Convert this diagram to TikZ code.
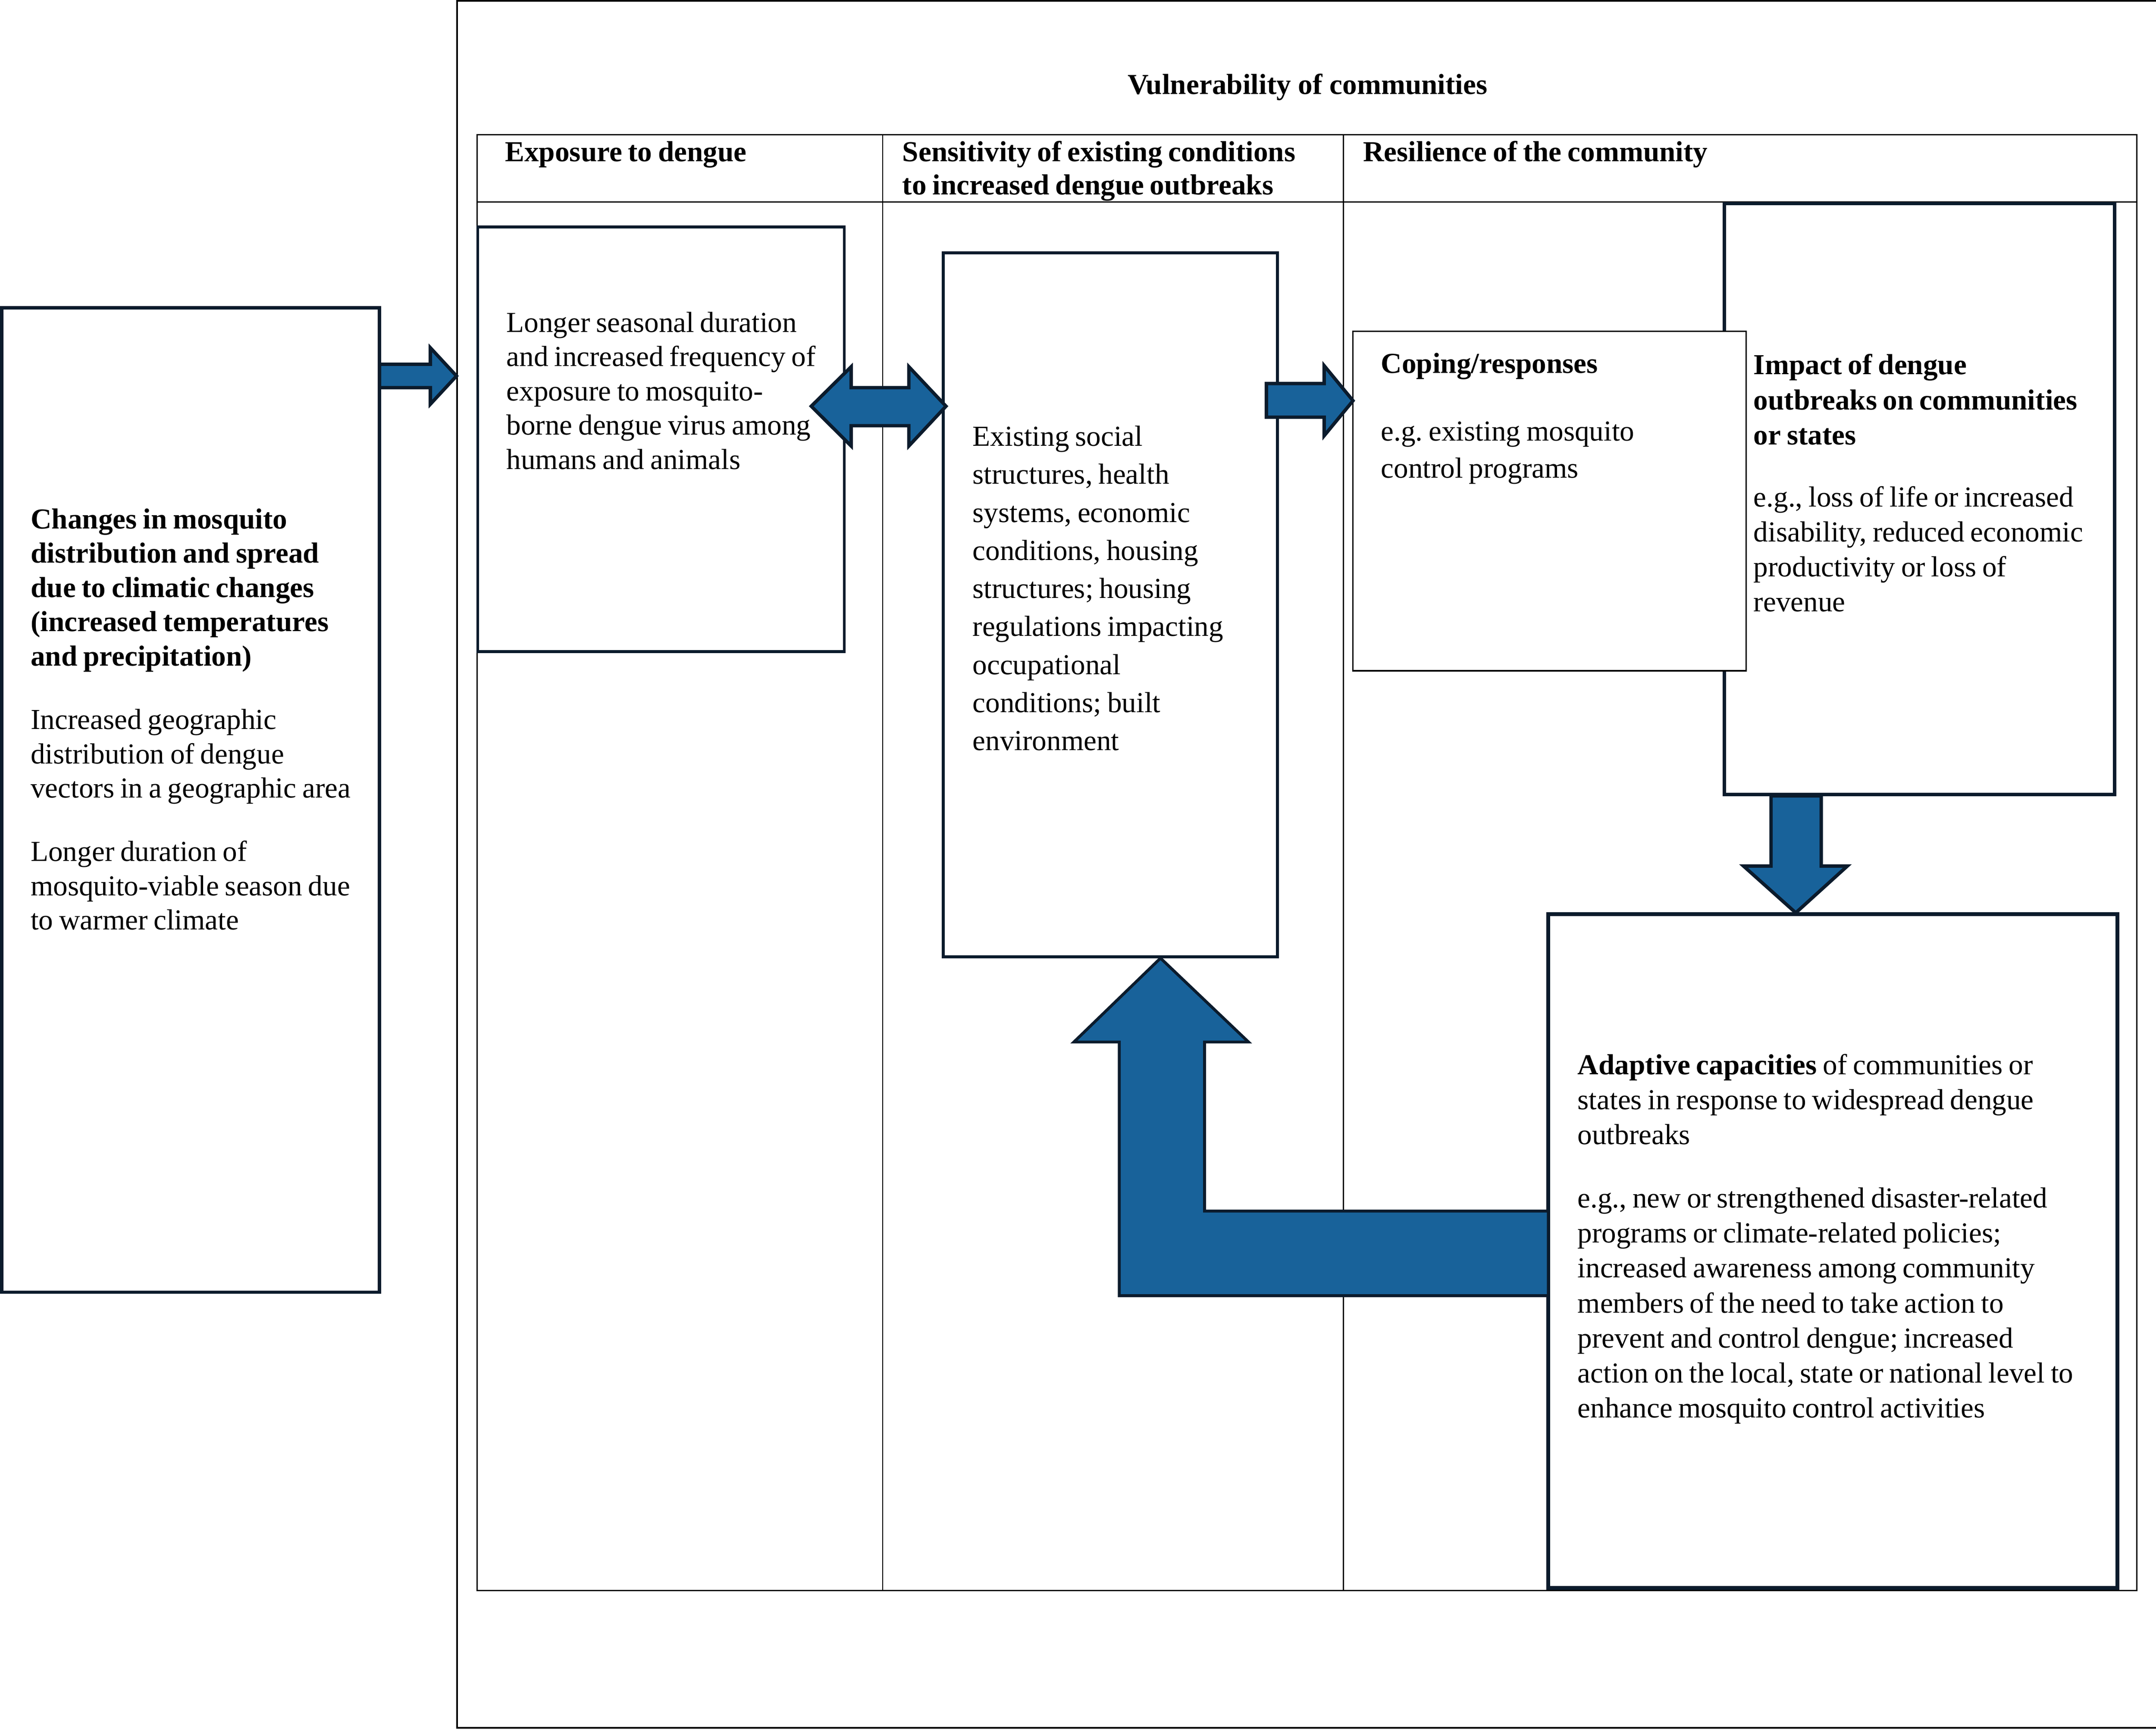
\documentclass[tikz,border=0pt]{standalone}
\usepackage{fontspec}
\setmainfont{Liberation Serif}
\usetikzlibrary{fit}
\definecolor{navy}{RGB}{11,27,44}
\definecolor{arrowblue}{RGB}{24,98,154}
\frenchspacing
\protected\def\tightsp{\spaceskip 2.45pt plus 0.6pt minus 0.2pt\relax\xspaceskip 2.45pt plus 0.6pt minus 0.2pt\relax}
\tikzset{
  frameline/.style={draw=black, line width=0.7pt},
  tabline/.style={draw=black, line width=0.6pt},
  colline/.style={draw=black, line width=0.45pt},
  navybox/.style={draw=navy, fill=white, inner sep=0pt},
  blockarrow/.style={draw=navy, fill=arrowblue, line width=1.4pt, line join=miter},
  txt/.style={anchor=base west, align=left, inner sep=0pt, text width=280pt, execute at begin node=\tightsp},
  lsp/.style={font={\fontsize{12}{#1}\selectfont}},
  hdr/.style={anchor=base west, align=left, inner sep=0pt, text width=280pt, execute at begin node=\tightsp, font={\bfseries\fontsize{12}{#1}\selectfont}},
}
\begin{document}
\begin{tikzpicture}[x=0.02cm, y=-0.02cm]
\useasboundingbox (0,0) rectangle (1568,1258.2);

% outer frame (open on the right)
\draw[frameline] (1568,0.7) -- (332.5,0.7) -- (332.5,1257) -- (1568,1257);
\node[anchor=base, inner sep=0pt, font={\bfseries\fontsize{12}{14}\selectfont}] (title) at (951,68.5) {Vulnerability of communities};

% table
\draw[tabline] (347,98) rectangle (1554,1157);
\draw[tabline] (347,147) -- (1554,147);
\draw[colline] (642,98) -- (642,1157);
\draw[colline] (977,98) -- (977,1157);
\node[hdr=13.7pt] (h1) at (367,117.5) {Exposure to dengue};
\node[hdr=13.7pt] (h2) at (656,117.5) {Sensitivity of existing conditions\\to increased dengue outbreaks};
\node[hdr=13.7pt] (h3) at (991,117.5) {Resilience of the community};

% boxes
\node[navybox, line width=1.4pt, fit={(1.2,224)(276,940)}] (changes) {};
\node[hdr=14.2pt] (changesT) at (22,384.5) {Changes in mosquito\\distribution and spread\\due to climatic changes\\(increased temperatures\\and precipitation)};
\node[txt, lsp=14.2pt] (changesA) at (22,530.5) {Increased geographic\\distribution of dengue\\vectors in a geographic area};
\node[txt, lsp=14.2pt] (changesB) at (22,626.5) {Longer duration of\\mosquito-viable season due\\to warmer climate};

\node[navybox, line width=1.2pt, fit={(347.5,165)(614,474)}] (exposure) {};
\node[txt, lsp=14.2pt] (exposureT) at (368,241.5) {Longer seasonal duration\\and increased frequency of\\exposure to mosquito-\\borne dengue virus among\\humans and animals};

\node[navybox, line width=1.2pt, fit={(686,184)(929,696)}] (sens) {};
\node[txt, lsp=15.75pt] (sensT) at (707,324.5) {Existing social\\structures, health\\systems, economic\\conditions, housing\\structures; housing\\regulations impacting\\occupational\\conditions; built\\environment};

\node[navybox, line width=1.4pt, fit={(1254,148)(1538,578)}] (impact) {};
\node[hdr=14.5pt] (impactT) at (1275,272.5) {Impact of dengue\\outbreaks on communities\\or states};
\node[txt, lsp=14.5pt] (impactB) at (1275,368.5) {e.g., loss of life or increased\\disability, reduced economic\\productivity or loss of\\revenue};

\node[navybox, draw=black, line width=0.6pt, fit={(984,241)(1270,488)}] (coping) {};
\node[hdr=14.2pt] (copingT) at (1004,271.5) {Coping/responses};
\node[txt, lsp=15.4pt] (copingB) at (1004,320.5) {e.g. existing mosquito\\control programs};

\node[navybox, line width=1.6pt, fit={(1126,665)(1540,1155)}] (adapt) {};
\node[txt, lsp=14.5pt] (adaptT) at (1147,781.5) {\textbf{Adaptive capacities} of communities or\\states in response to widespread dengue\\outbreaks};
\node[txt, lsp=14.5pt] (adaptB) at (1147,878.5) {e.g., new or strengthened disaster-related\\programs or climate-related policies;\\increased awareness among community\\members of the need to take action to\\prevent and control dengue; increased\\action on the local, state or national level to\\enhance mosquito control activities};

% block arrows
\draw[blockarrow] (276,265) -- (313,265) -- (313,253) -- (332,273.5) -- (313,294) -- (313,282) -- (276,282) -- cycle;
\draw[blockarrow] (590,295.5) -- (619,266.8) -- (619,282) -- (661,282) -- (661,266.8) -- (688,295.5) -- (661,324.4) -- (661,309.7) -- (619,309.7) -- (619,324.4) -- cycle;
\draw[blockarrow] (921,279) -- (963,279) -- (963,266) -- (984,291.5) -- (963,317) -- (963,303.5) -- (921,303.5) -- cycle;
\draw[blockarrow] (1288,579) -- (1324.5,579) -- (1324.5,630) -- (1343.5,630) -- (1306,664) -- (1268,630) -- (1288,630) -- cycle;
\draw[blockarrow, line width=1.2pt] (844,697) -- (908,758) -- (876,758) -- (876,881) -- (1126,881) -- (1126,942.5) -- (814,942.5) -- (814,758) -- (781,758) -- cycle;
\end{tikzpicture}
\end{document}
